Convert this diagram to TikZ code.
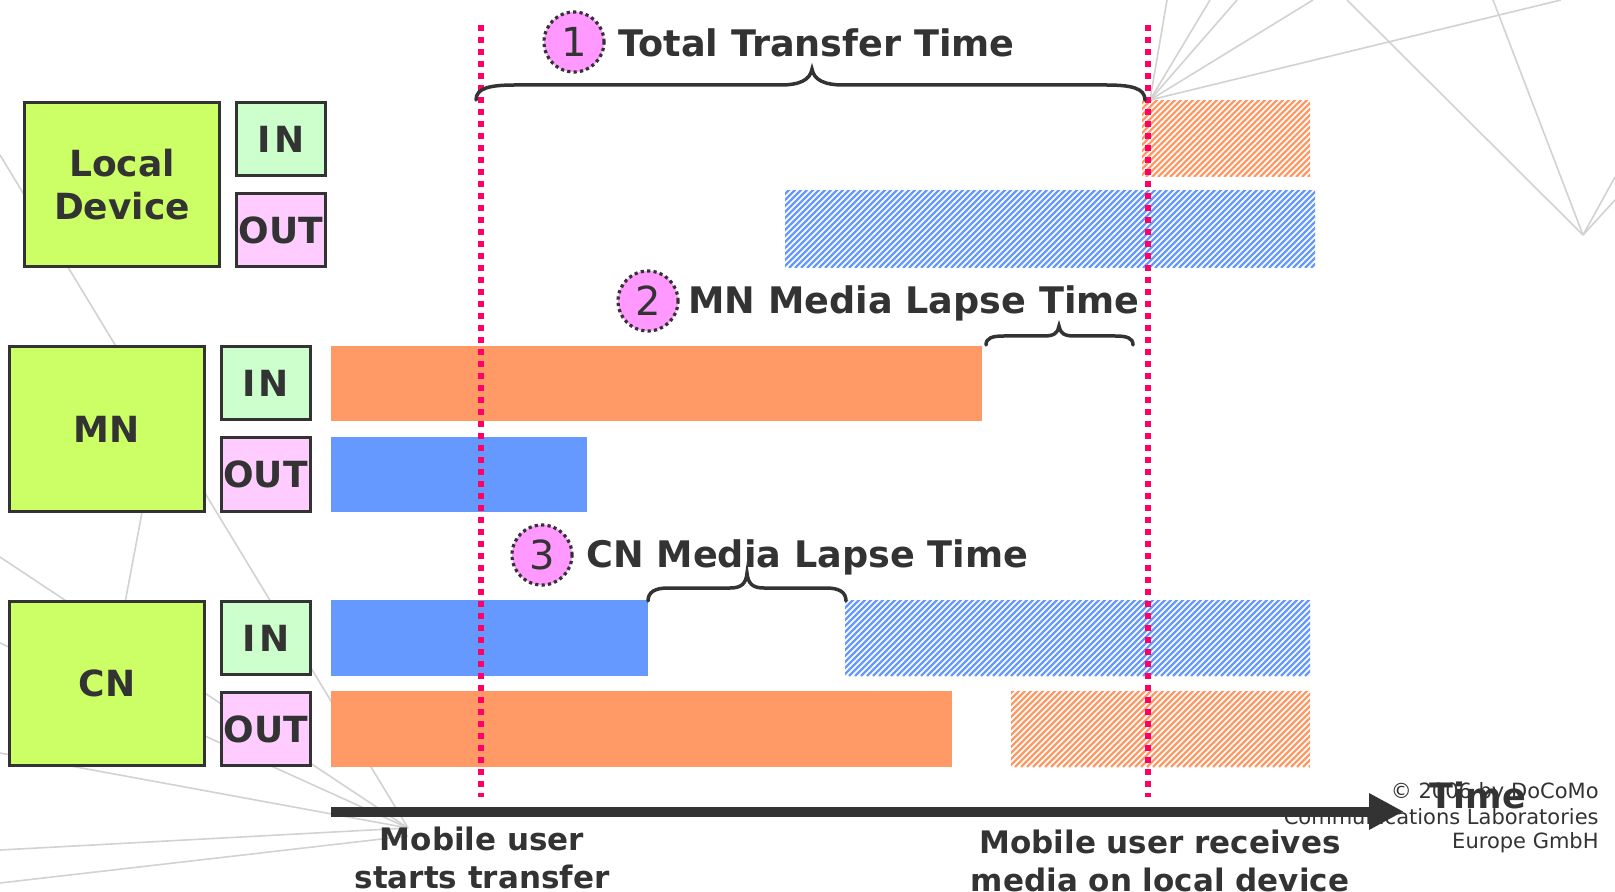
\documentclass[tikz,border=0pt]{standalone}
\usepackage{fontspec}
\setmainfont{DejaVu Sans}
\definecolor{cLime}{HTML}{CCFF66}
\definecolor{cIn}{HTML}{CCFFCC}
\definecolor{cOut}{HTML}{FFCCFF}
\definecolor{cOrange}{HTML}{FF9966}
\definecolor{cBlue}{HTML}{6699FF}
\definecolor{cRed}{HTML}{FF0066}
\definecolor{cPink}{HTML}{FF99FF}
\definecolor{cDark}{HTML}{333333}
\definecolor{cGrid}{HTML}{D2D2D2}
\newcommand{\hatchbar}[5]{%
  \fill[white] (#2,#3) rectangle (#4,#5);
  \begin{scope}
    \clip (#2,#3) rectangle (#4,#5);
    \foreach \xx in {0,6,...,630}{\draw[#1,line width=1.2pt] (#2-80+\xx,#5) -- ++(80,-80);}
  \end{scope}}
\begin{document}
\begin{tikzpicture}[x=0.5pt,y=-0.5pt,
  bgline/.style={cGrid,line width=0.8pt},
  dev/.style={draw=cDark,line width=1.5pt,fill=cLime,minimum width=97.5pt,minimum height=82pt,inner sep=0pt,align=center,text=cDark,font=\bfseries\fontsize{18pt}{21.5pt}\selectfont},
  inbox/.style={draw=cDark,line width=1.5pt,fill=cIn,minimum width=44.5pt,minimum height=36.5pt,inner sep=0pt,text=cDark,font=\bfseries\fontsize{18pt}{21.5pt}\selectfont},
  outbox/.style={inbox,fill=cOut},
  reddot/.style={cRed,line width=2.6pt,dash pattern=on 3pt off 3pt},
  brc/.style={draw=cDark,line width=1.75pt,line cap=round},
  num/.style={circle,fill=cPink,draw=cDark,line width=1.6pt,dash pattern=on 1.6pt off 1.6pt,minimum size=30pt,inner sep=0pt,text=cDark,font=\fontsize{20pt}{24pt}\selectfont},
  lab/.style={inner sep=0pt,text=cDark,font=\bfseries\fontsize{18.3pt}{22pt}\selectfont},
  sublab/.style={inner sep=0pt,text=cDark,font=\bfseries\fontsize{15.5pt}{19pt}\selectfont},
  cpr/.style={inner sep=0pt,text=cDark,font=\fontsize{10.5pt}{12pt}\selectfont}
]
\useasboundingbox (0,0) rectangle (1615,892);
\fill[white] (0,0) rectangle (1615,892);

% faint background network lines
\coordinate (h2) at (408,828);
\coordinate (h1) at (1150,100);
\coordinate (h3) at (1583,235);
\draw[bgline] (0,155) -- (h2);
\draw[bgline] (0,557) -- (h2);
\draw[bgline] (0,643) -- (h2);
\draw[bgline] (0,753) -- (h2);
\draw[bgline] (0,850) -- (h2);
\draw[bgline] (0,883) -- (408,836);
\draw[bgline] (150,470) -- (118,640);
\draw[bgline] (h1) -- (1167,0);
\draw[bgline] (h1) -- (1210,0);
\draw[bgline] (h1) -- (1237,0);
\draw[bgline] (h1) -- (1313,0);
\draw[bgline] (h1) -- (1561,0);
\draw[bgline] (1347,0) -- (h3);
\draw[bgline] (1493,0) -- (h3);
\draw[bgline] (h3) -- (1615,177);
\draw[bgline] (h3) -- (1615,200);

% bars
\fill[cOrange] (331,346) rectangle (982,421);
\fill[cBlue] (331,437) rectangle (587,512);
\fill[cBlue] (331,600) rectangle (648,676);
\fill[cOrange] (331,691) rectangle (952,767);
\hatchbar{cOrange}{1142}{101}{1310}{177}
\hatchbar{cBlue}{785}{191}{1315}{268}
\hatchbar{cBlue}{845}{600}{1310}{676}
\hatchbar{cOrange}{1011}{691}{1310}{767}

% boxes
\node[dev] (ld) at (122,184.5) {Local\\Device};
\node[inbox] (ldin) at (281,139) {I\kern1.5pt N};
\node[outbox] (ldout) at (281,230) {OUT};
\node[dev] (mn) at (106.5,429) {MN};
\node[inbox] (mnin) at (265.5,383.5) {I\kern1.5pt N};
\node[outbox] (mnout) at (265.5,474.5) {OUT};
\node[dev] (cn) at (107,683.5) {CN};
\node[inbox] (cnin) at (266,638) {I\kern1.5pt N};
\node[outbox] (cnout) at (266,729) {OUT};

% dotted time markers
\coordinate (d1t) at (481,25); \coordinate (d1b) at (481,797);
\coordinate (d2t) at (1148,25); \coordinate (d2b) at (1148,797);
\draw[reddot] (d1t) -- (d1b);
\draw[reddot] (d2t) -- (d2b);

% braces
\draw[brc] (476,100) .. controls (476,88) and (490,85) .. (515,85) -- (780,85)
  .. controls (800,85) and (810,80) .. (812,69) .. controls (814,80) and (824,85) .. (844,85)
  -- (1106,85) .. controls (1131,85) and (1145,88) .. (1145,100);
\draw[brc] (986,345) .. controls (986,338) and (992,336) .. (1004,336) -- (1044,336)
  .. controls (1054,336) and (1058,333) .. (1059,326) .. controls (1060,333) and (1064,336) .. (1074,336)
  -- (1115,336) .. controls (1127,336) and (1133,338) .. (1133,345);
\draw[brc] (648,601) .. controls (648,592) and (655,588) .. (668,588) -- (730,588)
  .. controls (741,588) and (746,584) .. (747,573) .. controls (748,584) and (753,588) .. (764,588)
  -- (826,588) .. controls (839,588) and (846,592) .. (846,601);

% numbered labels
\node[num] (n1) at (574,42) {1};
\node[lab,anchor=base west] (l1) at (618,57) {Total Transfer Time};
\node[num] (n2) at (648,301) {2};
\node[lab,anchor=base west] (l2) at (688,314) {MN Media Lapse Time};
\node[num] (n3) at (542,555) {3};
\node[lab,anchor=base west] (l3) at (586,567) {CN Media Lapse Time};

% time axis
\coordinate (ax0) at (331,811.5);
\coordinate (ax1) at (1372,811.5);
\draw[cDark,line width=5pt] (ax0) -- (ax1);
\fill[cDark] (1369,793) -- (1403,811.5) -- (1369,830) -- cycle;

\node[sublab,anchor=base] (s1) at (482,850) {Mobile user};
\node[sublab,anchor=base] (s2) at (482,888) {starts transfer};
\node[sublab,anchor=base] (r1) at (1160,853) {Mobile user receives};
\node[sublab,anchor=base] (r2) at (1160,891) {media on local device};

\node[inner sep=0pt,text=cDark,font=\bfseries\fontsize{17.5pt}{21pt}\selectfont,anchor=base] (tm) at (1478,808) {Time};

\node[cpr,anchor=base east] (c1) at (1599,798) {© 2006 by DoCoMo};
\node[cpr,anchor=base east] (c2) at (1599,824) {Communications Laboratories};
\node[cpr,anchor=base east] (c3) at (1599,848) {Europe GmbH};
\end{tikzpicture}
\end{document}
